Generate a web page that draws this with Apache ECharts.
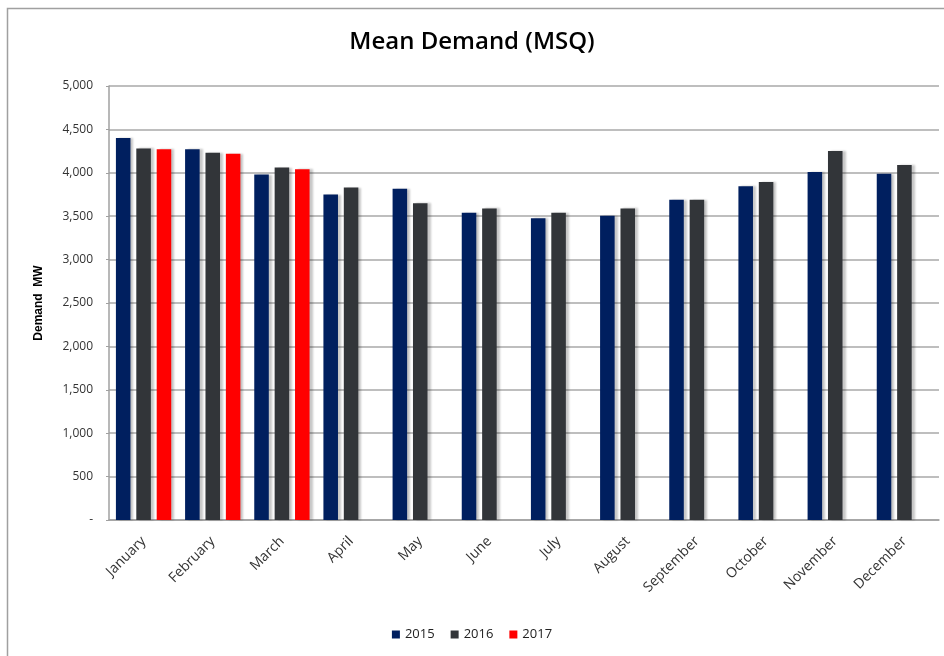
<!DOCTYPE html>
<html>
<head>
<meta charset="utf-8">
<script src="https://cdn.jsdelivr.net/npm/echarts@6/dist/echarts.min.js"></script>
<style>
    html, body { margin:0; padding:0; background:#fff; }
    #main { width:944px; height:656px; }
</style>
</head>
<body>
<div id="main"></div>
<script>
var months = ['January','February','March','April','May','June','July','August','September','October','November','December'];
var d2015 = [4400, 4270, 3980, 3750, 3815, 3540, 3475, 3505, 3690, 3845, 4010, 3990];
var d2016 = [4280, 4230, 4060, 3830, 3650, 3590, 3540, 3590, 3690, 3895, 4250, 4090];
var d2017 = [4270, 4220, 4040, '-', '-', '-', '-', '-', '-', '-', '-', '-'];
var years = ['2015', '2016', '2017'];

var barShadow = {
    shadowColor : 'rgba(0,0,0,0.22)',
    shadowBlur : 2,
    shadowOffsetX : 3,
    shadowOffsetY : 0
};

function bar(name, color, data) {
    return {
        name : name,
        type : 'bar',
        barGap : '40%',
        barCategoryGap : '20%',
        itemStyle : Object.assign({ color : color }, barShadow),
        data : data
    };
}

var option = {
    animation : false,
    title : {
        text : 'Mean Demand (MSQ)',
        left : 'center',
        top : 25,
        textStyle : {
            fontFamily : 'Open Sans',
            fontSize : 24,
            fontWeight : 600,
            color : '#000'
        }
    },
    legend : {
        bottom : 10,
        left : 'center',
        itemWidth : 8,
        itemHeight : 8,
        itemGap : 16,
        icon : 'rect',
        textStyle : {
            fontFamily : 'Open Sans',
            fontSize : 13,
            color : '#222'
        },
        data : years
    },
    grid : {
        left : 109,
        right : 5,
        top : 86,
        bottom : 136
    },
    xAxis : [{
        type : 'category',
        data : months,
        axisLine : { lineStyle : { color : '#a0a0a0', width : 1.5 } },
        axisTick : { show : false },
        axisLabel : {
            rotate : 45,
            interval : 0,
            margin : 19,
            fontFamily : 'Open Sans',
            fontSize : 14,
            color : '#333'
        }
    }],
    yAxis : [{
        type : 'value',
        min : 0,
        max : 5000,
        interval : 500,
        name : 'Demand  MW',
        nameLocation : 'middle',
        nameGap : 64,
        nameTextStyle : {
            fontFamily : 'Liberation Sans',
            fontSize : 12,
            fontWeight : 'bold',
            color : '#000'
        },
        axisLine : { show : true, lineStyle : { color : '#a0a0a0', width : 1.5 } },
        axisTick : { show : true, length : 3, lineStyle : { color : '#a0a0a0' } },
        splitLine : { lineStyle : { color : '#a8a8a8', width : 1.5 } },
        axisLabel : {
            margin : 16,
            fontFamily : 'Open Sans',
            fontSize : 12,
            color : '#333',
            formatter : function(v) {
                if (v === 0) return '-';
                return v.toLocaleString('en-US');
            }
        }
    }],
    graphic : [{
        type : 'rect',
        shape : { x : 7.5, y : 8.5, width : 1000, height : 700 },
        style : { fill : 'none', stroke : '#a0a0a0', lineWidth : 1.5 },
        silent : true
    }],
    series : [
        bar('2015', '#001f5f', d2015),
        bar('2016', '#323539', d2016),
        bar('2017', '#ff0000', d2017)
    ]
};

var chart = echarts.init(document.getElementById('main'));
chart.setOption(option);
</script>
</body>
</html>
